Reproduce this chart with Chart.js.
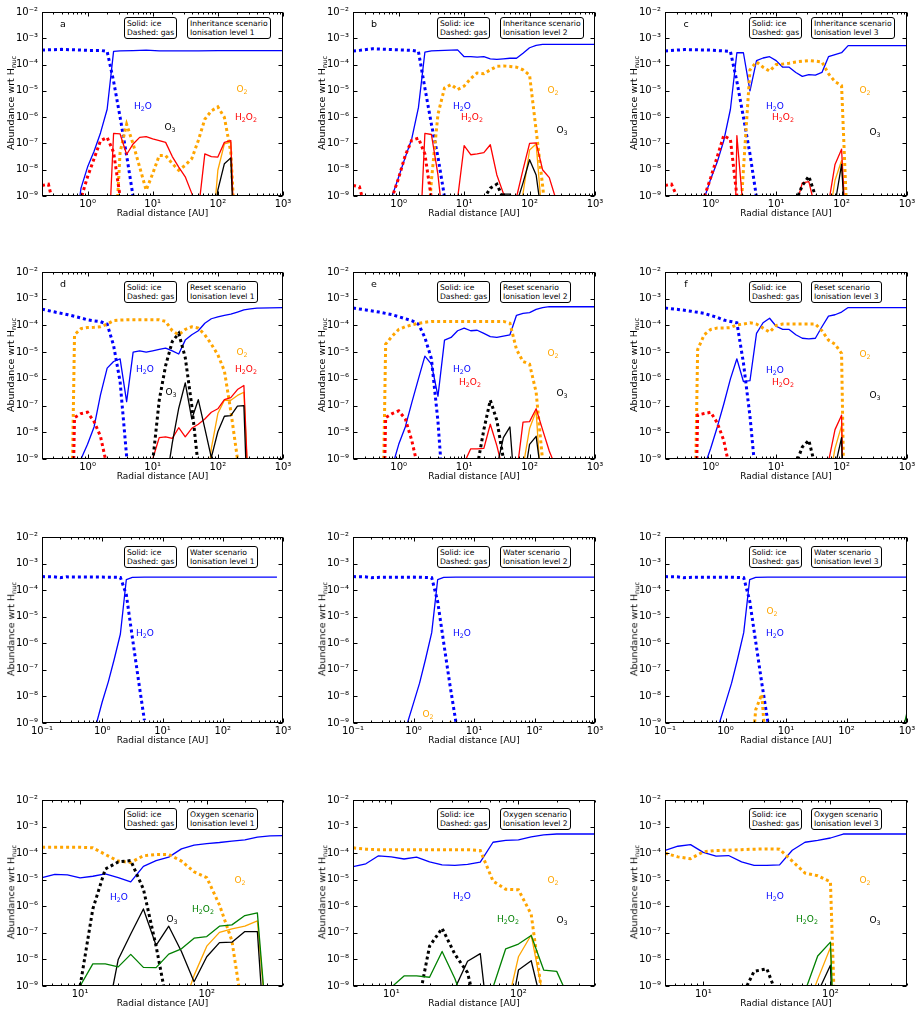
<!DOCTYPE html>
<html>
<head>
<meta charset="utf-8">
<title>Abundance profiles</title>
<script src="https://cdn.jsdelivr.net/npm/chart.js@4.4.1/dist/chart.umd.min.js"></script>
<style>
  html,body{margin:0;padding:0;background:#fff;}
  body{position:relative;width:915px;height:1013px;overflow:hidden;font-family:"DejaVu Sans",sans-serif;color:#000;}
  canvas{position:absolute;}
  .t{position:absolute;white-space:nowrap;line-height:1;transform:translate(-50%,-50%);}
  .sp{font-size:9px;}
  .lt{font-size:9.5px;}
  sub{font-size:70%;vertical-align:baseline;position:relative;top:0.3em;line-height:0;}
  .box{position:absolute;border:1px solid #000;border-radius:3px;background:#fff;font-size:7.6px;line-height:9px;padding:1px 2px;white-space:nowrap;}
  .yt{position:absolute;white-space:nowrap;font-size:9.5px;line-height:1;transform:translate(-50%,-50%) rotate(-90deg);}
  .yt sub{top:0.25em;}
  .xt{position:absolute;white-space:nowrap;font-size:9px;line-height:1;transform:translate(-50%,-50%);}
</style>
</head>
<body>
<script>
// ---------------- DATA (radius in AU, log10 of abundance wrt H_nuc) ----------------
const Y_TICKS = [1e-9, 1e-8, 1e-7, 1e-6, 1e-5, 1e-4, 1e-3, 1e-2];
const X_DECADES = [0.1, 1, 10, 100, 1000];
const X_RANGE_INNER = [0.2, 1000];
const X_RANGE_WATER = [0.1, 1000];
const X_RANGE_OXYGEN = [5, 400];
const SCENARIOS = ['Inheritance scenario', 'Reset scenario', 'Water scenario', 'Oxygen scenario'];
const LEVELS = ['Ionisation level 1', 'Ionisation level 2', 'Ionisation level 3'];
const LETTERS = ['a', 'b', 'c', 'd', 'e', 'f'];

// Panel a
const a_H2O_ice = [[0.631,-10.5],[0.794,-8.7],[1,-7.9],[1.26,-7.3],[1.58,-6.6],[2,-5.7],[2.51,-3.5],[3.16,-3.48],[5.01,-3.47],[7.94,-3.45],[12.6,-3.48],[50.1,-3.48],[100,-3.47],[1000,-3.47]];
const a_H2O_gas = [[0.2,-3.45],[0.251,-3.44],[0.398,-3.42],[0.631,-3.44],[1,-3.46],[1.58,-3.46],[2,-3.5],[2.51,-4.63],[3.16,-6.0],[3.98,-7.46],[5.01,-9.03],[6.31,-12]];
const a_H2O2_ice = [[2,-12],[2.51,-6.62],[3.16,-6.64],[3.98,-7.42],[5.01,-7.02],[6.31,-6.77],[7.94,-6.74],[10,-6.83],[12.6,-6.89],[15.8,-6.96],[20,-7.5],[25.1,-7.9],[31.6,-8.27],[39.8,-8.9],[50.1,-9.6],[63.1,-7.4],[79.4,-7.5],[100,-7.52],[126,-6.96],[158,-6.89],[200,-14]];
const a_H2O2_gas = [[0.2,-8.6],[0.251,-8.55],[0.316,-9.6],[0.398,-12],[0.794,-9.1],[1,-8.27],[1.26,-7.58],[1.58,-6.9],[2,-6.77],[2.51,-7.33],[3.16,-9.03],[3.98,-12]];
const a_O2_ice = [[79.4,-11],[100,-8.02],[126,-7.02],[158,-6.95],[200,-14]];
const a_O2_gas = [[2.51,-12],[3.16,-7.33],[3.98,-6.27],[5.01,-7.02],[6.31,-7.9],[7.94,-8.78],[10,-8.15],[12.6,-7.46],[15.8,-7.46],[20,-7.77],[25.1,-8.02],[31.6,-7.83],[39.8,-7.58],[50.1,-6.89],[63.1,-6.08],[79.4,-5.76],[100,-5.61],[126,-6.01],[158,-7.33],[200,-12]];
const a_O3_ice = [[79.4,-11],[100,-8.78],[126,-7.77],[158,-7.55],[200,-14]];

// Panel b
const b_H2O_ice = [[0.631,-10.5],[0.794,-9.0],[1,-8.27],[1.26,-7.52],[1.58,-6.83],[2,-5.64],[2.51,-3.53],[3.16,-3.48],[5.01,-3.46],[7.94,-3.44],[10,-3.7],[12.6,-3.7],[15.8,-3.72],[20,-3.7],[25.1,-3.78],[31.6,-3.8],[39.8,-3.78],[50.1,-3.76],[63.1,-3.76],[79.4,-3.57],[100,-3.36],[126,-3.27],[158,-3.23],[1000,-3.23]];
const b_H2O_gas = [[0.2,-3.48],[0.251,-3.46],[0.398,-3.4],[0.631,-3.42],[1,-3.44],[1.58,-3.46],[2,-3.5],[2.51,-4.89],[3.16,-6.27],[3.98,-7.52],[5.01,-9.03],[6.31,-12]];
const b_H2O2_ice = [[2,-12],[2.51,-6.62],[3.16,-6.66],[3.98,-8.2],[5.01,-10.5],[6.31,-12],[7.94,-9.1],[10,-7.08],[12.6,-7.43],[15.8,-7.4],[20,-7.35],[25.1,-7.05],[31.6,-8.2],[39.8,-8.9],[50.1,-10],[63.1,-9.05],[79.4,-8.0],[100,-7.0],[126,-6.98],[158,-8.0],[200,-8.3],[251,-9.1],[316,-12]];
const b_H2O2_gas = [[0.2,-8.6],[0.251,-8.65],[0.316,-9.6],[0.398,-12],[0.794,-9.05],[1,-8.3],[1.26,-7.45],[1.58,-6.88],[2,-6.8],[2.51,-7.4],[3.16,-9.1],[3.98,-12]];
const b_O2_ice = [[63.1,-11],[79.4,-8.9],[100,-7.25],[126,-7.02],[158,-10]];
const b_O2_gas = [[2.51,-12],[3.16,-8.4],[3.98,-5.89],[5.01,-4.89],[6.31,-4.76],[7.94,-4.95],[10,-4.82],[12.6,-4.53],[15.8,-4.32],[20,-4.35],[25.1,-4.2],[31.6,-4.07],[39.8,-4.05],[50.1,-4.07],[63.1,-4.1],[79.4,-4.2],[100,-4.4],[126,-6.5],[158,-8.6],[200,-11]];
const b_O3_ice = [[31.6,-9.3],[39.8,-8.93],[50.1,-8.93],[63.1,-9.3],[79.4,-8.5],[100,-7.62],[126,-8.2],[158,-10]];
const b_O3_gas = [[20,-9.1],[25.1,-8.7],[31.6,-8.55],[39.8,-9.1]];

// Panel c
const c_H2O_ice = [[0.631,-10.5],[0.794,-9.1],[1,-8.35],[1.26,-7.7],[1.58,-6.9],[2,-5.7],[2.51,-3.55],[3.16,-3.55],[3.98,-5.0],[5.01,-3.85],[6.31,-3.75],[7.94,-3.7],[10,-3.85],[12.6,-4.1],[15.8,-4.1],[20,-4.3],[25.1,-4.45],[31.6,-4.38],[39.8,-4.4],[50.1,-4.3],[63.1,-3.7],[79.4,-3.62],[100,-3.55],[126,-3.28],[1000,-3.28]];
const c_H2O_gas = [[0.2,-3.48],[0.398,-3.43],[1,-3.45],[2,-3.5],[2.51,-4.64],[3.16,-6.0],[3.98,-7.4],[5.01,-9.05],[6.31,-12]];
const c_H2O2_ice = [[2,-20],[2.51,-6.7],[3.16,-9.6],[3.98,-12],[15.8,-12],[20,-9.4],[25.1,-8.5],[31.6,-8.45],[39.8,-9.5],[50.1,-12],[63.1,-9.3],[79.4,-7.8],[100,-7.22],[126,-12]];
const c_H2O2_gas = [[0.2,-8.6],[0.251,-8.55],[0.316,-9.1],[0.398,-12],[0.794,-9.05],[1,-8.3],[1.26,-7.5],[1.58,-6.7],[2,-6.85],[2.51,-9.0],[3.16,-12]];
const c_O2_ice = [[63.1,-10],[79.4,-8.4],[100,-7.65],[126,-12]];
const c_O2_gas = [[2.51,-12],[3.16,-8.0],[3.98,-4.2],[5.01,-3.9],[6.31,-4.1],[7.94,-4.25],[10,-4.0],[12.6,-3.98],[15.8,-3.95],[20,-3.9],[25.1,-3.87],[31.6,-3.85],[39.8,-3.87],[50.1,-3.9],[63.1,-4.35],[79.4,-4.65],[100,-4.8],[126,-11]];
const c_O3_ice = [[79.4,-9.3],[100,-7.8],[126,-12]];
const c_O3_gas = [[20,-9.2],[25.1,-8.6],[31.6,-8.25],[39.8,-9.0]];

// Panel d
const d_H2O_ice = [[0.631,-10.5],[0.794,-9.0],[1,-8.45],[1.26,-7.8],[1.58,-6.6],[2,-5.6],[2.51,-5.35],[3.16,-5.25],[3.98,-6.85],[5.01,-5.0],[6.31,-4.95],[7.94,-5.0],[10,-4.95],[12.6,-4.9],[15.8,-4.85],[20,-4.95],[25.1,-5.07],[31.6,-4.55],[39.8,-4.35],[50.1,-4.2],[63.1,-3.92],[79.4,-3.75],[100,-3.68],[126,-3.62],[158,-3.58],[200,-3.5],[251,-3.42],[316,-3.38],[398,-3.35],[1000,-3.33]];
const d_H2O_gas = [[0.2,-3.39],[0.316,-3.5],[0.501,-3.6],[0.794,-3.72],[1,-3.79],[1.26,-3.83],[1.58,-3.86],[2,-3.95],[2.51,-4.75],[3.16,-6.1],[3.98,-8.9],[5.01,-12]];
const d_H2O2_ice = [[7.94,-11],[10,-9.0],[12.6,-8.2],[15.8,-8.17],[20,-8.23],[25.1,-7.83],[31.6,-8.17],[39.8,-7.85],[50.1,-7.7],[63.1,-7.5],[79.4,-7.25],[100,-7.12],[126,-6.78],[158,-6.7],[200,-6.4],[251,-6.25],[316,-12]];
const d_H2O2_gas = [[0.501,-20],[0.631,-7.45],[0.794,-7.3],[1,-7.25],[1.26,-7.6],[1.58,-8.15],[2,-9.3],[2.51,-12]];
const d_O2_ice = [[63.1,-11],[79.4,-8.6],[100,-7.3],[126,-6.8],[158,-6.8],[200,-6.62],[251,-6.5],[316,-12]];
const d_O2_gas = [[0.501,-20],[0.631,-4.35],[0.794,-4.12],[1,-4.08],[1.26,-4.07],[1.58,-4.05],[2,-3.95],[2.51,-3.82],[3.16,-3.8],[3.98,-3.79],[12.6,-3.79],[15.8,-3.85],[20,-4.2],[25.1,-4.35],[31.6,-4.15],[39.8,-4.05],[50.1,-4.1],[63.1,-4.35],[79.4,-4.7],[100,-5.1],[126,-5.7],[158,-7.2],[200,-9.0],[251,-12]];
const d_O3_ice = [[15.8,-10],[20,-8.4],[25.1,-7.1],[31.6,-6.15],[39.8,-7.5],[50.1,-6.78],[63.1,-7.85],[79.4,-8.95],[100,-7.98],[126,-7.4],[158,-7.38],[200,-7.02],[251,-7.0],[316,-14]];
const d_O3_gas = [[7.94,-12],[10,-9.1],[12.6,-6.8],[15.8,-5.5],[20,-4.6],[25.1,-4.3],[31.6,-5.2],[39.8,-7.0],[50.1,-9.3],[63.1,-12]];

// Panel e
const e_H2O_ice = [[0.631,-11],[0.794,-9.3],[1,-8.45],[1.26,-7.8],[1.58,-6.9],[2,-6.0],[2.51,-5.15],[3.16,-5.45],[3.98,-6.65],[5.01,-4.55],[6.31,-4.45],[7.94,-4.2],[10,-4.1],[12.6,-4.2],[15.8,-4.18],[20,-4.3],[25.1,-4.42],[31.6,-4.45],[39.8,-4.4],[50.1,-4.35],[63.1,-3.62],[79.4,-3.55],[100,-3.52],[126,-3.4],[158,-3.33],[200,-3.3],[1000,-3.3]];
const e_H2O_gas = [[0.2,-3.35],[0.316,-3.42],[0.501,-3.5],[0.794,-3.6],[1.26,-3.75],[1.58,-3.82],[2,-3.95],[2.51,-4.45],[3.16,-5.25],[3.98,-7.6],[5.01,-11]];
const e_H2O2_ice = [[7.94,-10.5],[10,-9.15],[12.6,-8.62],[15.8,-8.62],[20,-8.6],[25.1,-7.7],[31.6,-8.5],[39.8,-9.5],[50.1,-12],[63.1,-9.6],[79.4,-7.62],[100,-7.6],[126,-7.12],[158,-7.9],[200,-8.7],[251,-9.3],[316,-12]];
const e_H2O2_gas = [[0.501,-20],[0.631,-7.45],[0.794,-7.3],[1,-7.2],[1.26,-7.5],[1.58,-8.3],[2,-9.4],[2.51,-12]];
const e_O2_ice = [[63.1,-11],[79.4,-9.3],[100,-7.86],[126,-7.2],[158,-11]];
const e_O2_gas = [[0.501,-20],[0.631,-4.7],[0.794,-4.4],[1,-4.15],[1.26,-4.05],[1.58,-3.98],[2,-3.92],[2.51,-3.88],[3.16,-3.85],[39.8,-3.85],[50.1,-3.92],[63.1,-4.9],[79.4,-5.35],[100,-5.45],[126,-6.5],[158,-9.05],[200,-12]];
const e_O3_ice = [[25.1,-11],[31.6,-9.3],[39.8,-8.2],[50.1,-7.8],[63.1,-11],[79.4,-10],[100,-8.45],[126,-8.15],[158,-10]];
const e_O3_gas = [[12.6,-11],[15.8,-9.3],[20,-7.9],[25.1,-6.8],[31.6,-7.55],[39.8,-9.0],[50.1,-12]];

// Panel f
const f_H2O_ice = [[0.631,-11],[0.794,-9.3],[1,-8.6],[1.26,-7.8],[1.58,-6.95],[2,-6.0],[2.51,-5.25],[3.16,-6.1],[3.98,-6.07],[5.01,-4.3],[6.31,-3.9],[7.94,-3.73],[10,-4.03],[12.6,-4.15],[15.8,-4.15],[20,-4.35],[25.1,-4.48],[31.6,-4.5],[39.8,-4.48],[50.1,-4.05],[63.1,-3.65],[79.4,-3.6],[100,-3.5],[126,-3.33],[1000,-3.33]];
const f_H2O_gas = [[0.2,-3.35],[0.316,-3.4],[0.501,-3.47],[0.794,-3.55],[1.26,-3.7],[1.58,-3.8],[2,-3.85],[2.51,-3.9],[3.16,-5.4],[3.98,-7.4],[5.01,-10]];
const f_H2O2_ice = [[50.1,-12],[63.1,-9.1],[79.4,-7.9],[100,-7.36],[126,-20]];
const f_H2O2_gas = [[0.501,-20],[0.631,-7.35],[0.794,-7.3],[1,-7.25],[1.26,-7.65],[1.58,-8.3],[2,-9.5],[2.51,-12]];
const f_O2_ice = [[50.1,-12],[63.1,-10],[79.4,-8.6],[100,-7.75],[126,-20]];
const f_O2_gas = [[0.501,-20],[0.631,-4.9],[0.794,-4.35],[1,-4.15],[1.26,-4.1],[1.58,-4.1],[2,-4.08],[2.51,-3.98],[3.16,-3.95],[3.98,-3.9],[5.01,-3.95],[6.31,-4.1],[7.94,-4.25],[10,-4.0],[12.6,-3.95],[39.8,-3.95],[50.1,-4.2],[63.1,-4.55],[79.4,-4.7],[100,-5.05],[126,-20]];
const f_O3_ice = [[63.1,-12],[79.4,-9.3],[100,-8.2],[126,-20]];
const f_O3_gas = [[15.8,-11],[20,-9.2],[25.1,-8.55],[31.6,-8.3],[39.8,-9.3],[50.1,-12]];

// Panel g
const g_H2O_ice = [[0.631,-11],[0.794,-9.05],[1,-8.2],[1.26,-7.45],[1.58,-6.6],[2,-5.65],[2.51,-3.6],[3.16,-3.52],[5.01,-3.51],[794,-3.51]];
const g_H2O_gas = [[0.1,-3.49],[0.158,-3.5],[0.2,-3.53],[0.251,-3.5],[1,-3.51],[2,-3.52],[2.51,-4.17],[3.16,-5.78],[3.98,-7.37],[5.01,-8.9]];

// Panel h
const h_H2O_ice = [[0.631,-11],[0.794,-9.0],[1,-8.25],[1.26,-7.5],[1.58,-6.6],[2,-5.6],[2.51,-3.6],[3.16,-3.52],[5.01,-3.51],[1000,-3.51]];
const h_H2O_gas = [[0.1,-3.49],[0.158,-3.5],[0.2,-3.53],[0.251,-3.52],[1,-3.51],[2,-3.53],[2.51,-4.43],[3.16,-5.99],[3.98,-7.53],[5.01,-8.95]];
const h_O2_gas = [[3.16,-9.3],[3.98,-8.93],[5.01,-9.5]];

// Panel i
const i_H2O_ice = [[0.631,-11],[0.794,-9.0],[1,-8.25],[1.26,-7.5],[1.58,-6.6],[2,-5.6],[2.51,-3.6],[3.16,-3.52],[5.01,-3.51],[1000,-3.51]];
const i_H2O_gas = [[0.1,-3.49],[0.158,-3.5],[0.2,-3.53],[0.251,-3.52],[1,-3.51],[2,-3.53],[2.51,-4.4],[3.16,-5.95],[3.98,-7.5],[5.01,-8.95]];
const i_O2_gas = [[2.51,-11],[3.16,-8.5],[3.98,-7.92],[5.01,-11]];
const i_H2O2_ice = [[794,-9.6],[1000,-8.6]];

// Panel j
const j_H2O_ice = [[5.01,-4.92],[6.31,-4.8],[7.94,-4.82],[10,-4.93],[12.6,-4.87],[15.8,-4.78],[20,-4.92],[25.1,-5.08],[31.6,-4.5],[39.8,-4.28],[50.1,-4.15],[63.1,-3.84],[79.4,-3.7],[100,-3.64],[126,-3.6],[158,-3.55],[200,-3.5],[251,-3.4],[316,-3.35],[398,-3.34]];
const j_O2_gas = [[5.01,-3.78],[10,-3.78],[12.6,-3.8],[15.8,-4.05],[20,-4.3],[25.1,-4.35],[31.6,-4.1],[39.8,-4.05],[50.1,-4.05],[63.1,-4.3],[79.4,-4.7],[100,-4.92],[126,-5.95],[158,-7.3],[200,-10.5]];
const j_O3_gas = [[10,-9.0],[12.6,-6.1],[15.8,-4.6],[20,-4.33],[25.1,-4.28],[31.6,-5.35],[39.8,-7.5],[50.1,-10]];
const j_O3_ice = [[15.8,-10.5],[20,-8.0],[25.1,-7.04],[31.6,-6.1],[39.8,-7.47],[50.1,-6.75],[63.1,-7.7],[79.4,-8.84],[100,-7.9],[126,-7.37],[158,-7.35],[200,-6.95],[251,-6.95],[316,-14]];
const j_H2O2_ice = [[10,-9.0],[12.6,-8.17],[15.8,-8.17],[20,-8.28],[25.1,-7.81],[31.6,-8.3],[39.8,-8.31],[50.1,-7.8],[63.1,-7.6],[79.4,-7.2],[100,-7.14],[126,-6.75],[158,-6.7],[200,-6.35],[251,-6.25],[316,-12]];
const j_O2_ice = [[63.1,-10],[79.4,-8.6],[100,-7.5],[126,-6.98],[158,-6.85],[200,-6.75],[251,-6.55],[316,-12]];

// Panel k
const k_H2O_ice = [[5.01,-4.51],[6.31,-4.4],[7.94,-4.1],[10,-4.14],[12.6,-4.22],[15.8,-4.15],[20,-4.33],[25.1,-4.44],[31.6,-4.46],[39.8,-4.42],[50.1,-4.34],[63.1,-3.59],[79.4,-3.52],[100,-3.5],[126,-3.39],[158,-3.31],[200,-3.28],[398,-3.28]];
const k_O2_gas = [[5.01,-3.8],[6.31,-3.85],[7.94,-3.87],[39.8,-3.87],[50.1,-3.9],[63.1,-5.05],[79.4,-5.36],[100,-5.38],[126,-6.3],[158,-9.8]];
const k_O3_gas = [[15.8,-10],[20,-7.5],[25.1,-6.83],[31.6,-7.8],[39.8,-8.5],[50.1,-10.5]];
const k_H2O2_ice = [[7.94,-11],[10,-9.05],[12.6,-8.62],[15.8,-8.62],[20,-8.67],[25.1,-7.7],[31.6,-8.72],[39.8,-10],[50.1,-12],[63.1,-9.05],[79.4,-7.6],[100,-7.42],[126,-7.1],[158,-8.4],[200,-8.45],[251,-9.5]];
const k_O3_ice = [[25.1,-12],[31.6,-9.1],[39.8,-8.07],[50.1,-7.78],[63.1,-12],[79.4,-11],[100,-8.4],[126,-8.05],[158,-10]];
const k_O2_ice = [[79.4,-10],[100,-7.9],[126,-7.08],[158,-9.5]];

// Panel l
const l_H2O_ice = [[5.01,-3.9],[6.31,-3.74],[7.94,-3.68],[10,-3.97],[12.6,-4.11],[15.8,-4.09],[20,-4.33],[25.1,-4.46],[31.6,-4.46],[39.8,-4.44],[50.1,-3.89],[63.1,-3.59],[79.4,-3.52],[100,-3.43],[126,-3.28],[398,-3.28]];
const l_O2_gas = [[5.01,-4.0],[6.31,-4.14],[7.94,-4.21],[10,-3.95],[12.6,-3.9],[15.8,-3.89],[20,-3.87],[25.1,-3.85],[31.6,-3.84],[39.8,-3.85],[50.1,-4.3],[63.1,-4.75],[79.4,-4.85],[100,-5.08],[126,-20]];
const l_O3_gas = [[20,-9.4],[25.1,-8.45],[31.6,-8.35],[39.8,-9.6]];
const l_H2O2_ice = [[50.1,-12],[63.1,-9.2],[79.4,-7.87],[100,-7.35],[126,-20]];
const l_O2_ice = [[63.1,-10],[79.4,-8.75],[100,-7.55],[126,-20]];
const l_O3_ice = [[79.4,-9.25],[100,-8.22],[126,-20]];

// ---------------- STYLE / LAYOUT ----------------
const BLUE = '#0000ff', ORANGE = '#ffa500', RED = '#ff0000', GREEN = '#008000', BLACK = '#000000';
const COLS = [{L:42, R:283}, {L:353, R:595}, {L:665, R:907}];
const ROWS = [{T:10, B:196}, {T:270, B:459}, {T:535, B:723}, {T:798, B:986}];
const BOX1_X = [124, 437, 749];
const BOX2_X = [187, 500, 811];
const BOX_Y = [17, 281, 546, 808];
const H2O = 'H<sub>2</sub>O', O2 = 'O<sub>2</sub>', H2O2 = 'H<sub>2</sub>O<sub>2</sub>', O3 = 'O<sub>3</sub>';

const S = (data, color, dashed) => ({data, color, dashed});

const PANELS = [
  {row:0, col:0, xr:X_RANGE_INNER,
   series:[S(a_H2O_ice,BLUE,0),S(a_H2O_gas,BLUE,1),S(a_O2_gas,ORANGE,1),S(a_O2_ice,ORANGE,0),S(a_H2O2_gas,RED,1),S(a_H2O2_ice,RED,0),S(a_O3_ice,BLACK,0)],
   labels:[[H2O,BLUE,143,106],[O2,ORANGE,242,89],[H2O2,RED,246,117],[O3,BLACK,170,127]]},
  {row:0, col:1, xr:X_RANGE_INNER,
   series:[S(b_H2O_ice,BLUE,0),S(b_H2O_gas,BLUE,1),S(b_O2_gas,ORANGE,1),S(b_O2_ice,ORANGE,0),S(b_H2O2_gas,RED,1),S(b_H2O2_ice,RED,0),S(b_O3_gas,BLACK,1),S(b_O3_ice,BLACK,0)],
   labels:[[H2O,BLUE,462,106],[H2O2,RED,472,117],[O2,ORANGE,553,90],[O3,BLACK,562,130]]},
  {row:0, col:2, xr:X_RANGE_INNER,
   series:[S(c_H2O_ice,BLUE,0),S(c_H2O_gas,BLUE,1),S(c_O2_gas,ORANGE,1),S(c_O2_ice,ORANGE,0),S(c_H2O2_gas,RED,1),S(c_H2O2_ice,RED,0),S(c_O3_gas,BLACK,1),S(c_O3_ice,BLACK,0)],
   labels:[[H2O,BLUE,775,106],[H2O2,RED,783,117],[O2,ORANGE,865,90],[O3,BLACK,875,132]]},
  {row:1, col:0, xr:X_RANGE_INNER,
   series:[S(d_H2O_ice,BLUE,0),S(d_H2O_gas,BLUE,1),S(d_O2_gas,ORANGE,1),S(d_O2_ice,ORANGE,0),S(d_H2O2_gas,RED,1),S(d_H2O2_ice,RED,0),S(d_O3_gas,BLACK,1),S(d_O3_ice,BLACK,0)],
   labels:[[H2O,BLUE,145,369],[O2,ORANGE,242,352],[H2O2,RED,246,369],[O3,BLACK,171,392]]},
  {row:1, col:1, xr:X_RANGE_INNER,
   series:[S(e_H2O_ice,BLUE,0),S(e_H2O_gas,BLUE,1),S(e_O2_gas,ORANGE,1),S(e_O2_ice,ORANGE,0),S(e_H2O2_gas,RED,1),S(e_H2O2_ice,RED,0),S(e_O3_gas,BLACK,1),S(e_O3_ice,BLACK,0)],
   labels:[[H2O,BLUE,462,369],[H2O2,RED,470,382],[O2,ORANGE,553,353],[O3,BLACK,562,393]]},
  {row:1, col:2, xr:X_RANGE_INNER,
   series:[S(f_H2O_ice,BLUE,0),S(f_H2O_gas,BLUE,1),S(f_O2_gas,ORANGE,1),S(f_O2_ice,ORANGE,0),S(f_H2O2_gas,RED,1),S(f_H2O2_ice,RED,0),S(f_O3_gas,BLACK,1),S(f_O3_ice,BLACK,0)],
   labels:[[H2O,BLUE,775,370],[H2O2,RED,783,382],[O2,ORANGE,865,354],[O3,BLACK,875,395]]},
  {row:2, col:0, xr:X_RANGE_WATER,
   series:[S(g_H2O_ice,BLUE,0),S(g_H2O_gas,BLUE,1)],
   labels:[[H2O,BLUE,145,633]]},
  {row:2, col:1, xr:X_RANGE_WATER,
   series:[S(h_H2O_ice,BLUE,0),S(h_H2O_gas,BLUE,1),S(h_O2_gas,ORANGE,1)],
   labels:[[H2O,BLUE,462,633],[O2,ORANGE,428,714]]},
  {row:2, col:2, xr:X_RANGE_WATER,
   series:[S(i_H2O_ice,BLUE,0),S(i_H2O_gas,BLUE,1),S(i_O2_gas,ORANGE,1),S(i_H2O2_ice,GREEN,0)],
   labels:[[O2,ORANGE,772,611],[H2O,BLUE,775,633]]},
  {row:3, col:0, xr:X_RANGE_OXYGEN,
   series:[S(j_H2O_ice,BLUE,0),S(j_O2_gas,ORANGE,1),S(j_O2_ice,ORANGE,0),S(j_O3_gas,BLACK,1),S(j_O3_ice,BLACK,0),S(j_H2O2_ice,GREEN,0)],
   labels:[[H2O,BLUE,119,897],[O2,ORANGE,240,880],[H2O2,GREEN,203,909],[O3,BLACK,172,919]]},
  {row:3, col:1, xr:X_RANGE_OXYGEN,
   series:[S(k_H2O_ice,BLUE,0),S(k_O2_gas,ORANGE,1),S(k_O2_ice,ORANGE,0),S(k_O3_gas,BLACK,1),S(k_O3_ice,BLACK,0),S(k_H2O2_ice,GREEN,0)],
   labels:[[H2O,BLUE,462,896],[O2,ORANGE,553,880],[H2O2,GREEN,508,919],[O3,BLACK,562,920]]},
  {row:3, col:2, xr:X_RANGE_OXYGEN,
   series:[S(l_H2O_ice,BLUE,0),S(l_O2_gas,ORANGE,1),S(l_O2_ice,ORANGE,0),S(l_O3_gas,BLACK,1),S(l_O3_ice,BLACK,0),S(l_H2O2_ice,GREEN,0)],
   labels:[[H2O,BLUE,775,896],[O2,ORANGE,865,880],[H2O2,GREEN,807,919],[O3,BLACK,875,920]]}
];

// ---------------- HELPERS ----------------
const SUP = {'-':'\u207B','0':'\u2070','1':'\u00B9','2':'\u00B2','3':'\u00B3','4':'\u2074','5':'\u2075','6':'\u2076','7':'\u2077','8':'\u2078','9':'\u2079'};
function powLabel(v) {
  const e = String(Math.round(Math.log10(v)));
  return '10' + e.split('').map(ch => SUP[ch]).join('');
}
function addDiv(cls, html, x, y, color) {
  const d = document.createElement('div');
  d.className = cls;
  d.innerHTML = html;
  d.style.left = x + 'px';
  d.style.top = y + 'px';
  if (color) d.style.color = color;
  document.body.appendChild(d);
  return d;
}

const framePlugin = {
  id: 'frame',
  afterDatasetsDraw(chart) {
    const {ctx, chartArea: a} = chart;
    const xs = chart.scales.x, ys = chart.scales.y;
    const l = Math.round(a.left) + 0.5, r = Math.round(a.right) - 0.5;
    const t = Math.round(a.top) + 0.5, b = Math.round(a.bottom) - 0.5;
    ctx.save();
    ctx.strokeStyle = '#000';
    ctx.lineWidth = 1;
    ctx.setLineDash([]);
    ctx.beginPath();
    for (const v of Y_TICKS) {
      const p = Math.round(ys.getPixelForValue(v)) + 0.5;
      ctx.moveTo(l, p); ctx.lineTo(l + 4, p);
      ctx.moveTo(r, p); ctx.lineTo(r - 4, p);
    }
    for (const d of X_DECADES) {
      for (let m = 1; m < 10; m++) {
        const v = m * d;
        if (v < xs.min * 0.999 || v > xs.max * 1.001) continue;
        const p = Math.round(xs.getPixelForValue(v)) + 0.5;
        const len = m === 1 ? 4 : 2;
        ctx.moveTo(p, t); ctx.lineTo(p, t + len);
        ctx.moveTo(p, b); ctx.lineTo(p, b - len);
      }
    }
    ctx.stroke();
    ctx.strokeRect(l, t, r - l, b - t);
    ctx.restore();
  }
};

const PAD_L = 45, PAD_T = 8, PAD_R = 12, PAD_B = 18;
const FONT = {family: 'DejaVu Sans', size: 10};

PANELS.forEach((p, idx) => {
  const {L, R} = COLS[p.col];
  const {T, B} = ROWS[p.row];
  const cv = document.createElement('canvas');
  cv.width = (R - L) + PAD_L + PAD_R;
  cv.height = (B - T) + PAD_T + PAD_B;
  cv.style.left = (L - PAD_L) + 'px';
  cv.style.top = (T - PAD_T) + 'px';
  document.body.appendChild(cv);

  const [xmin, xmax] = p.xr;
  const datasets = p.series.map(s => ({
    data: s.data.map(([r, e]) => ({x: r, y: Math.pow(10, e)})),
    borderColor: s.color,
    backgroundColor: s.color,
    borderWidth: s.dashed ? 3 : 1.3,
    borderDash: s.dashed ? [3, 3] : [],
    borderCapStyle: 'butt',
    borderJoinStyle: s.dashed ? 'miter' : 'round',
    pointRadius: 0,
    tension: 0,
    fill: false
  })).reverse();

  new Chart(cv, {
    type: 'line',
    data: {datasets},
    options: {
      responsive: false,
      animation: false,
      devicePixelRatio: 1,
      events: [],
      layout: {padding: {left: 0, top: PAD_T, right: PAD_R, bottom: 0}},
      plugins: {legend: {display: false}, tooltip: {enabled: false}, title: {display: false}},
      scales: {
        x: {
          type: 'logarithmic', min: xmin, max: xmax,
          grid: {display: false, drawTicks: false}, border: {display: false},
          afterBuildTicks: ax => { ax.ticks = X_DECADES.filter(v => v >= xmin * 0.999 && v <= xmax * 1.001).map(v => ({value: v})); },
          afterFit: sc => { sc.height = PAD_B; },
          ticks: {callback: v => powLabel(v), font: FONT, color: '#000', padding: 2, autoSkip: false, maxRotation: 0, minRotation: 0}
        },
        y: {
          type: 'logarithmic', min: 1e-9, max: 1e-2,
          grid: {display: false, drawTicks: false}, border: {display: false},
          afterBuildTicks: ax => { ax.ticks = Y_TICKS.map(v => ({value: v})); },
          afterFit: sc => { sc.width = PAD_L; },
          ticks: {callback: v => powLabel(v), font: FONT, color: '#000', padding: 4, autoSkip: false}
        }
      }
    },
    plugins: [framePlugin]
  });

  if (p.row < 2) addDiv('t lt', LETTERS[idx], L + 21, T + 14);
  addDiv('box', 'Solid: ice<br>Dashed: gas', BOX1_X[p.col], BOX_Y[p.row]);
  addDiv('box', SCENARIOS[p.row] + '<br>' + LEVELS[p.col], BOX2_X[p.col], BOX_Y[p.row]);
  p.labels.forEach(([html, color, x, y]) => addDiv('t sp', html, x, y, color));
  addDiv('yt', 'Abundance wrt H<sub>nuc</sub>', L - 31, (T + B) / 2);
  addDiv('xt', 'Radial distance [AU]', (L + R) / 2, B + 17);
});
</script>
</body>
</html>
